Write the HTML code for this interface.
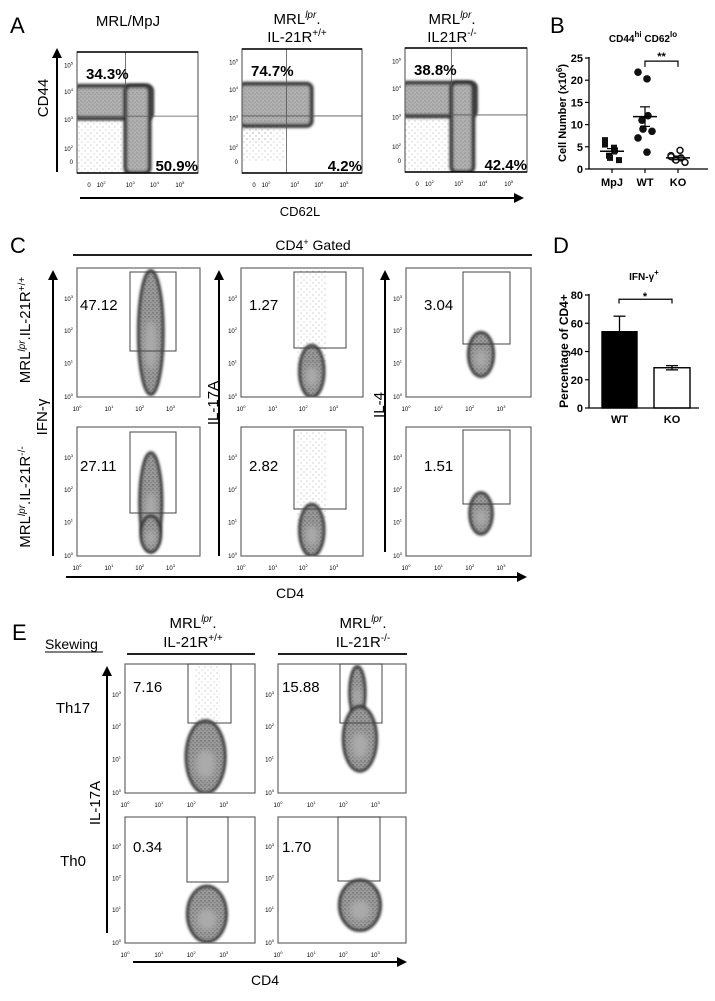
<!DOCTYPE html>
<html><head><meta charset="utf-8"><style>
html,body{margin:0;padding:0;background:#fff}
svg{display:block;font-family:"Liberation Sans",Arial,sans-serif}
</style></head><body>
<svg id="fig" width="715" height="1001" viewBox="0 0 715 1001" xmlns="http://www.w3.org/2000/svg">
<defs>
<filter id="bl" x="-30%" y="-30%" width="160%" height="160%"><feGaussianBlur stdDeviation="1.3"/></filter>
<filter id="bl2" x="-30%" y="-30%" width="160%" height="160%"><feGaussianBlur stdDeviation="3"/></filter>
<pattern id="dots" width="4" height="4" patternUnits="userSpaceOnUse"><circle cx="1" cy="1" r="0.7" fill="#222"/><circle cx="3" cy="2.6" r="0.6" fill="#444"/></pattern>
<pattern id="sparse" width="6" height="6" patternUnits="userSpaceOnUse"><circle cx="1" cy="1" r="0.5" fill="#555"/><circle cx="4" cy="4" r="0.5" fill="#777"/></pattern>
<marker id="ah" markerWidth="10" markerHeight="10" refX="8" refY="5" orient="auto" markerUnits="userSpaceOnUse"><path d="M0,0 L10,5 L0,10 z" fill="#000"/></marker>
</defs>
<g id="root"></g>
</svg>
<script>
// ---- data: panel B ----
const bCategories = ["MpJ","WT","KO"];
const bMpj = [5.5,4.8,4.2,3.0,2.5,2.0,6.5];
const bWt = [21.8,20.3,12,11,9,8.5,7,3.8];
const bKo = [3.0,4.2,2.5,2.2,2.0,1.5,2.8];
const bMeans = [4.0,11.8,2.5];
const bSem = [0.6,2.2,0.4];
const bTicks = [0,5,10,15,20,25];
// ---- data: panel D ----
const dCategories = ["WT","KO"];
const dValues = [54,28.5];
const dErr = [11,1.5];
const dTicks = [0,20,40,60,80];
// ---- data: flow percentages ----
const aPercentsUL = ["34.3%","74.7%","38.8%"];
const aPercentsLR = ["50.9%","4.2%","42.4%"];
const cValues = [["47.12","1.27","3.04"],["27.11","2.82","1.51"]];
const eValues = [["7.16","15.88"],["0.34","1.70"]];

const NS="http://www.w3.org/2000/svg";
const root=document.getElementById('root');
function mk(tag,attrs,parent){const e=document.createElementNS(NS,tag);for(const k in attrs)e.setAttribute(k,attrs[k]);(parent||root).appendChild(e);return e;}
function txt(x,y,s,size,opts,parent){opts=opts||{};const e=mk('text',{x:x,y:y,'font-size':size,'text-anchor':opts.anchor||'start',fill:'#000','font-weight':opts.bold?'bold':'normal'},parent);
 if(opts.rot)e.setAttribute('transform','rotate(-90 '+x+' '+y+')');e.innerHTML=s;return e;}
function line(x1,y1,x2,y2,w,parent,arrow){const e=mk('line',{x1:x1,y1:y1,x2:x2,y2:y2,stroke:'#000','stroke-width':w||1},parent);if(arrow)e.setAttribute('marker-end','url(#ah)');return e;}

function blob(g,x,y,w,h,b){
 const cx=x+b[0]*w, cy=y+(1-b[1])*h, rx=b[2]*w, ry=b[3]*h, k=b[4]||'e';
 let o;
 if(k==='l'){
  o=mk('rect',{x:cx-rx,y:cy-ry,width:2*rx,height:2*ry,fill:'url(#sparse)',opacity:0.7},g);
 } else if(k==='r'){
  o=mk('rect',{x:cx-rx,y:cy-ry,width:2*rx,height:2*ry,rx:5,fill:'#b0b0b0',stroke:'#333','stroke-width':4,filter:'url(#bl)'},g);
  mk('rect',{x:cx-rx,y:cy-ry,width:2*rx,height:2*ry,rx:5,fill:'url(#dots)',opacity:0.25},g);
 } else {
  o=mk('ellipse',{cx:cx,cy:cy,rx:rx,ry:ry,fill:'#999',stroke:'#2a2a2a','stroke-width':3,filter:'url(#bl)'},g);
  mk('ellipse',{cx:cx,cy:cy,rx:rx,ry:ry,fill:'url(#dots)',opacity:0.45},g);
  mk('ellipse',{cx:cx,cy:cy+ry*0.2,rx:rx*0.5,ry:ry*0.4,fill:'#aaa',filter:'url(#bl2)'},g);
 }
 
 
}
function flowPanel(name,x,y,w,h,blobs,xt,yt,xf,yf){
 const g=mk('g',{});
 
 
 const cp=mk('clipPath',{id:'cp-'+name},g);
 mk('rect',{x:x,y:y,width:w,height:h},cp);
 const inner=mk('g',{'clip-path':'url(#cp-'+name+')'},g);
 blobs.forEach(b=>blob(inner,x,y,w,h,b));
 mk('rect',{x:x,y:y,width:w,height:h,fill:'none',stroke:'#666','stroke-width':1.2},g);
 xt.forEach((t,i)=>txt(x+xf[i]*w,y+h+14,t,6,{anchor:'middle'},g));
 yt.forEach((t,i)=>txt(x-4,y+(1-yf[i])*h+2,t,6,{anchor:'end'},g));
 return g;
}
const L4=["10<tspan dy='-3' font-size='4'>0</tspan>","10<tspan dy='-3' font-size='4'>1</tspan>","10<tspan dy='-3' font-size='4'>2</tspan>","10<tspan dy='-3' font-size='4'>3</tspan>"];
const L4f=[0,0.26,0.51,0.76];
const A5=["0","10<tspan dy='-3' font-size='4'>2</tspan>","10<tspan dy='-3' font-size='4'>3</tspan>","10<tspan dy='-3' font-size='4'>4</tspan>","10<tspan dy='-3' font-size='4'>5</tspan>"];

// ================= Panel A =================
txt(10,33,"A",22);
const aBoxes=[[77,52,121,121],[242,49,120,124],[405,48,122,124]];
const aBlobs=[
 [[0.2,0.22,0.2,0.22,'l'],[0.3,0.585,0.32,0.135,'r'],[0.5,0.36,0.1,0.36,'r']],
 [[0.18,0.3,0.18,0.2,'l'],[0.12,0.33,0.13,0.1,'l'],[0.28,0.55,0.3,0.17,'r']],
 [[0.2,0.22,0.2,0.22,'l'],[0.28,0.585,0.3,0.135,'r'],[0.47,0.36,0.09,0.36,'r']]];
const aVq=[0.4,0.37,0.38], aHq=[0.53,0.54,0.54];
aBoxes.forEach((b,i)=>{
 const g=flowPanel('cd44-cd62l-plot-'+(i+1),b[0],b[1],b[2],b[3],aBlobs[i],A5,A5,[0.1,0.2,0.44,0.64,0.85],[0.09,0.2,0.44,0.67,0.89]);
 line(b[0]+aVq[i]*b[2],b[1],b[0]+aVq[i]*b[2],b[1]+b[3],0.8,g).setAttribute('stroke','#555');
 line(b[0],b[1]+aHq[i]*b[3],b[0]+b[2],b[1]+aHq[i]*b[3],0.8,g).setAttribute('stroke','#555');
 line(b[0],b[1],b[0]+b[2],b[1],1.5,g);line(b[0],b[1]+b[3],b[0]+b[2],b[1]+b[3],1.5,g);
 txt(b[0]+9,b[1]+27,aPercentsUL[i],15,{bold:true},g);
 txt(b[0]+b[2],b[1]+b[3]-2,aPercentsLR[i],15,{bold:true,anchor:'end'},g);
});
txt(128,26,"MRL/MpJ",15,{anchor:'middle'});
txt(297,24,"MRL<tspan dy='-6' font-size='10' font-style='italic'>lpr</tspan><tspan dy='6'>.</tspan>",15,{anchor:'middle'});
txt(297,42,"IL-21R<tspan dy='-6' font-size='10'>+/+</tspan>",15,{anchor:'middle'});
txt(452,24,"MRL<tspan dy='-6' font-size='10' font-style='italic'>lpr</tspan><tspan dy='6'>.</tspan>",15,{anchor:'middle'});
txt(452,42,"IL21R<tspan dy='-6' font-size='10'>-/-</tspan>",15,{anchor:'middle'});
line(57,172,57,50,2,null,true);
txt(48,98,"CD44",15,{anchor:'middle',rot:true});
line(80,198,522,198,2,null,true);
txt(300,216,"CD62L",13,{anchor:'middle'});

// ================= Panel B =================
txt(550,33,"B",22);
const bX0=589,bY0=169,bY1=58,bXe=708;
const by=v=>bY0-(v/25)*(bY0-bY1);
const bx=i=>[612,645,678][i];
txt(643,42,"CD44<tspan dy='-5' font-size='8'>hi</tspan><tspan dy='5'> CD62</tspan><tspan dy='-5' font-size='8'>lo</tspan>",10,{anchor:'middle',bold:true});
line(bX0,bY1-1,bX0,bY0,1.3);line(bX0,bY0,bXe,bY0,1.3);
bTicks.forEach(t=>{line(bX0-4,by(t),bX0,by(t),1.2);txt(bX0-6,by(t)+4,String(t),11,{anchor:'end',bold:true});});
bCategories.forEach((c,i)=>{line(bx(i),bY0,bx(i),bY0+4,1.2);txt(bx(i),bY0+17,c,11,{anchor:'middle',bold:true});});
txt(566,113,"Cell Number (x10<tspan dy='-4' font-size='8'>6</tspan><tspan dy='4'>)</tspan>",11,{anchor:'middle',bold:true,rot:true});
[bMpj,bWt,bKo].forEach((arr,ci)=>{
 arr.forEach((v,j)=>{
  const off=((j%3)-1)*5+((j%2)?2:-2);
  let e;
  if(ci===0){e=mk('rect',{x:bx(ci)+off-3,y:by(v)-3,width:6,height:6,fill:'#111'});}
  else if(ci===1){e=mk('circle',{cx:bx(ci)+off,cy:by(v),r:3.8,fill:'#111'});}
  else{e=mk('circle',{cx:bx(ci)+off,cy:by(v),r:3,fill:'#fff',stroke:'#111','stroke-width':1.5});}
  
  
 });
 line(bx(ci)-12,by(bMeans[ci]),bx(ci)+12,by(bMeans[ci]),1.5);
 line(bx(ci),by(bMeans[ci]-bSem[ci]),bx(ci),by(bMeans[ci]+bSem[ci]),1.2);
 line(bx(ci)-5,by(bMeans[ci]+bSem[ci]),bx(ci)+5,by(bMeans[ci]+bSem[ci]),1.2);
 line(bx(ci)-5,by(bMeans[ci]-bSem[ci]),bx(ci)+5,by(bMeans[ci]-bSem[ci]),1.2);
});
mk('path',{d:`M${bx(1)},${by(23)} V${by(24.3)} H${bx(2)} V${by(23)}`,fill:'none',stroke:'#000','stroke-width':1.2});
txt((bx(1)+bx(2))/2,by(24.6),"**",11,{anchor:'middle',bold:true});

// ================= Panel C =================
txt(10,253,"C",22);
txt(313,250,"CD4<tspan dy='-5' font-size='9'>+</tspan><tspan dy='5'> Gated</tspan>",14,{anchor:'middle'});
line(73,255,532,255,1.8);
const cCols=[[77,123],[241,122],[406,125]];
const cRows=[[268,129],[427,129]];
const cGates=[[[130,176,272,351],[294,346,272,348],[463,510,272,344]],[[130,176,432,513],[294,346,430,509],[463,510,430,504]]];
const cBlobs=[[[0.6,0.5,0.1,0.48]],[[0.58,0.2,0.1,0.2],[0.58,0.6,0.12,0.38,'l']],[[0.6,0.33,0.1,0.17]]];
const cBlobs2=[[[0.6,0.42,0.09,0.38],[0.6,0.17,0.08,0.14]],[[0.58,0.2,0.1,0.2],[0.58,0.6,0.12,0.38,'l']],[[0.6,0.33,0.09,0.16]]];
cRows.forEach((r,ri)=>cCols.forEach((c,ci)=>{
 const g=flowPanel('cd4-gated-plot-r'+(ri+1)+'-c'+(ci+1),c[0],r[0],c[1],r[1],ri?cBlobs2[ci]:cBlobs[ci],L4,L4,L4f,L4f);
 const gt=cGates[ri][ci];
 mk('rect',{x:gt[0],y:gt[2],width:gt[1]-gt[0],height:gt[3]-gt[2],fill:'none',stroke:'#444','stroke-width':1},g);
 txt([80,249,424][ci],[310,471][ri],cValues[ri][ci],15,{},g);
}));
line(53,556,53,272,2,null,true);
line(219,556,219,272,2,null,true);
line(385,552,385,272,2,null,true);
txt(47,417,"IFN-γ",15,{anchor:'middle',rot:true});
txt(218,403,"IL-17A",15,{anchor:'middle',rot:true});
txt(384,405,"IL-4",15,{anchor:'middle',rot:true});
txt(30,330,"MRL<tspan dy='-5' font-size='10' font-style='italic'>lpr</tspan><tspan dy='5'>.IL-21R</tspan><tspan dy='-5' font-size='10'>+/+</tspan>",15,{anchor:'middle',rot:true});
txt(30,497,"MRL<tspan dy='-5' font-size='10' font-style='italic'>lpr</tspan><tspan dy='5'>.IL-21R</tspan><tspan dy='-5' font-size='10'>-/-</tspan>",15,{anchor:'middle',rot:true});
line(66,577,525,577,2,null,true);
txt(290,598,"CD4",14,{anchor:'middle'});

// ================= Panel D =================
txt(553,253,"D",22);
const dX0=589,dY0=408,dY1=295,dXe=699;
const dy=v=>dY0-(v/80)*(dY0-dY1);
const dBar=[[602,637],[654,690]];
txt(644,280,"IFN-γ<tspan dy='-5' font-size='8'>+</tspan>",10,{anchor:'middle',bold:true});
dCategories.forEach((c,i)=>{
 const b=dBar[i];
 const r=mk('rect',{x:b[0],y:dy(dValues[i]),width:b[1]-b[0],height:dY0-dy(dValues[i]),fill:i?'#fff':'#000',stroke:'#000','stroke-width':1.4});
 
 
 const cx=(b[0]+b[1])/2;
 line(cx,dy(dValues[i]-(i?dErr[i]:0)),cx,dy(dValues[i]+dErr[i]),1.3);
 line(cx-6,dy(dValues[i]+dErr[i]),cx+6,dy(dValues[i]+dErr[i]),1.3);
 if(i)line(cx-6,dy(dValues[i]-dErr[i]),cx+6,dy(dValues[i]-dErr[i]),1.3);
 txt(cx,dY0+15,c,11,{anchor:'middle',bold:true});
});
line(dX0,dY1-1,dX0,dY0,1.3);line(dX0,dY0,dXe,dY0,1.3);
dTicks.forEach(t=>{line(dX0-4,dy(t),dX0,dy(t),1.2);txt(dX0-6,dy(t)+4,String(t),11,{anchor:'end',bold:true});});
txt(568,351,"Percentage of CD4+",12,{anchor:'middle',bold:true,rot:true});
mk('path',{d:`M619,${dy(74)} V${dy(77)} H672 V${dy(74)}`,fill:'none',stroke:'#000','stroke-width':1.2});
txt(645,dy(78)+2,"*",11,{anchor:'middle',bold:true});

// ================= Panel E =================
txt(12,640,"E",22);
txt(45,649,"Skewing",14);
line(45,652,103,652,1);
txt(193,628,"MRL<tspan dy='-6' font-size='10' font-style='italic'>lpr</tspan><tspan dy='6'>.</tspan>",15,{anchor:'middle'});
txt(193,647,"IL-21R<tspan dy='-6' font-size='10'>+/+</tspan>",15,{anchor:'middle'});
txt(363,628,"MRL<tspan dy='-6' font-size='10' font-style='italic'>lpr</tspan><tspan dy='6'>.</tspan>",15,{anchor:'middle'});
txt(363,647,"IL-21R<tspan dy='-6' font-size='10'>-/-</tspan>",15,{anchor:'middle'});
line(127,654,255,654,1.8);line(278,654,407,654,1.8);
const eCols=[[125,130],[278,128]];
const eRows=[[664,129],[817,126]];
const eGates=[[[188,231,664,723],[340,382,664,723]],[[187,228,817,882],[338,380,817,881]]];
const eBlobs=[[[[0.63,0.75,0.1,0.25,'l'],[0.62,0.28,0.15,0.28]],[[0.62,0.78,0.06,0.2],[0.64,0.42,0.13,0.25]]],
 [[[0.63,0.23,0.15,0.22]],[[0.64,0.3,0.16,0.2]]]];
eRows.forEach((r,ri)=>eCols.forEach((c,ci)=>{
 const g=flowPanel('il17a-cd4-plot-r'+(ri+1)+'-c'+(ci+1),c[0],r[0],c[1],r[1],eBlobs[ri][ci],L4,L4,L4f,L4f);
 const gt=eGates[ri][ci];
 mk('rect',{x:gt[0],y:gt[2],width:gt[1]-gt[0],height:gt[3]-gt[2],fill:'none',stroke:'#444','stroke-width':1},g);
 txt([133,282][ci],[692,852][ri],eValues[ri][ci],15,{},g);
}));
txt(73,713,"Th17",15,{anchor:'middle'});
txt(73,866,"Th0",15,{anchor:'middle'});
line(107,933,107,668,2,null,true);
txt(100,803,"IL-17A",15,{anchor:'middle',rot:true});
line(133,962,405,962,2,null,true);
txt(265,985,"CD4",14,{anchor:'middle'});

document.querySelectorAll('#root text').forEach(t=>{
 
 
});
</script>
</body></html>
